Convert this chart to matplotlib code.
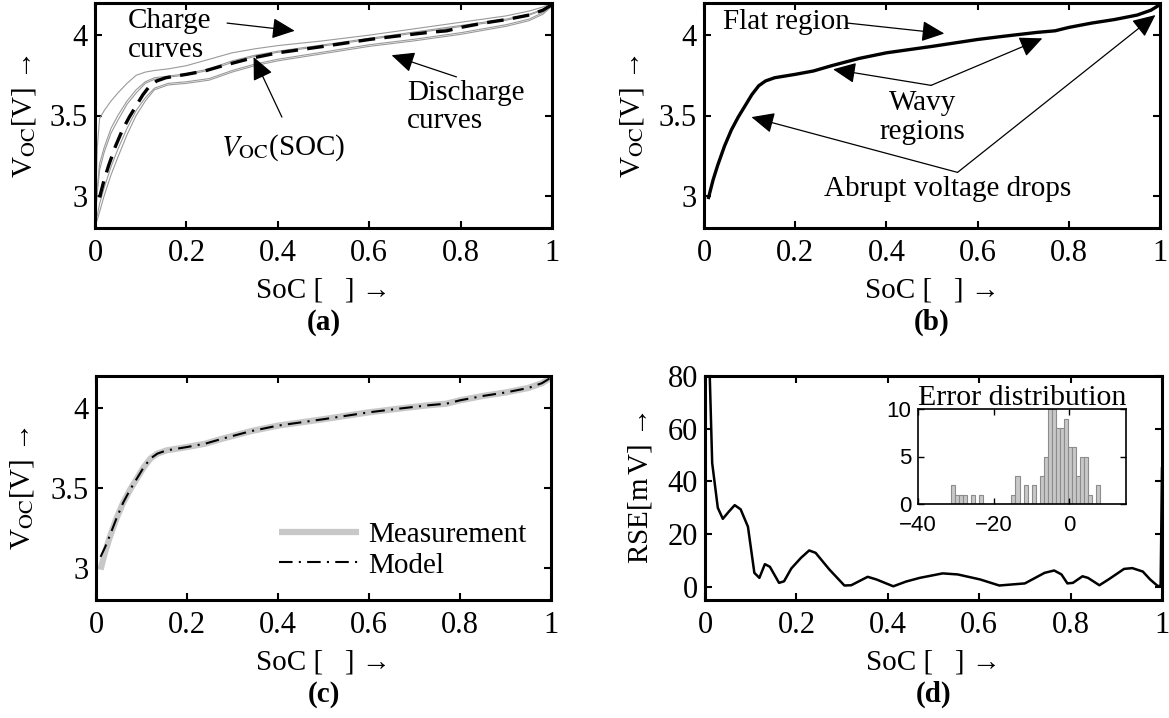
import matplotlib
matplotlib.use('Agg')
import matplotlib.pyplot as plt
import numpy as np

plt.rcParams['font.family'] = ['Liberation Serif', 'DejaVu Serif']
plt.rcParams['mathtext.fontset'] = 'stix'

FS = 21

# open circuit voltage curve (panels a, b, c)
ocv_soc = [0.01, 0.02, 0.03, 0.045, 0.06, 0.075, 0.09, 0.105, 0.12, 0.135, 0.155, 0.2,
           0.24, 0.28, 0.34, 0.4, 0.5, 0.6, 0.66, 0.73, 0.77, 0.8, 0.85, 0.9, 0.95, 0.98, 1.0]
ocv_v = [2.99, 3.10, 3.19, 3.31, 3.41, 3.49, 3.56, 3.63, 3.685, 3.715, 3.735, 3.756,
         3.777, 3.81, 3.855, 3.89, 3.93, 3.973, 3.994, 4.017, 4.027, 4.048, 4.075, 4.097, 4.125, 4.155, 4.19]
model_v = [3.07, 3.13, 3.20, 3.31, 3.41, 3.49, 3.56, 3.63, 3.685, 3.715, 3.735, 3.756,
           3.777, 3.81, 3.855, 3.89, 3.93, 3.973, 3.994, 4.017, 4.027, 4.048, 4.075, 4.097, 4.125, 4.155, 4.19]

# measured charge / discharge curves (panel a)
cd_soc = [0, 0.005, 0.01, 0.02, 0.035, 0.05, 0.07, 0.09, 0.11, 0.13, 0.16, 0.2,
          0.25, 0.3, 0.35, 0.4, 0.5, 0.6, 0.7, 0.8, 0.9, 0.95, 0.98, 1.0]
charge_1 = [2.82, 3.30, 3.48, 3.53, 3.59, 3.64, 3.70, 3.75, 3.77, 3.78, 3.79, 3.81,
            3.85, 3.89, 3.915, 3.935, 3.965, 4.00, 4.04, 4.08, 4.12, 4.15, 4.175, 4.20]
charge_2 = [2.82, 3.05, 3.20, 3.30, 3.42, 3.50, 3.59, 3.66, 3.71, 3.735, 3.745, 3.76,
            3.79, 3.84, 3.875, 3.90, 3.94, 3.98, 4.02, 4.06, 4.10, 4.13, 4.16, 4.19]
charge_3 = [2.82, 3.02, 3.16, 3.27, 3.39, 3.47, 3.57, 3.64, 3.70, 3.725, 3.738, 3.752,
            3.782, 3.83, 3.868, 3.893, 3.933, 3.973, 4.013, 4.053, 4.093, 4.125, 4.155, 4.19]
discharge_1 = [2.82, 2.88, 2.95, 3.05, 3.18, 3.29, 3.42, 3.53, 3.61, 3.67, 3.70, 3.71,
               3.73, 3.78, 3.82, 3.85, 3.895, 3.94, 3.975, 4.015, 4.065, 4.10, 4.14, 4.185]
discharge_2 = [2.82, 2.85, 2.90, 3.00, 3.13, 3.24, 3.38, 3.50, 3.59, 3.66, 3.69, 3.70,
               3.72, 3.77, 3.81, 3.84, 3.885, 3.93, 3.965, 4.005, 4.055, 4.09, 4.13, 4.18]

# fit error (panel d)
rse_soc = [0.008, 0.0157, 0.028, 0.039, 0.052, 0.065, 0.078, 0.094, 0.108, 0.119, 0.131,
           0.142, 0.162, 0.173, 0.189, 0.21, 0.228, 0.242, 0.272, 0.305, 0.32, 0.356, 0.375,
           0.412, 0.44, 0.47, 0.52, 0.553, 0.602, 0.644, 0.70, 0.743, 0.764, 0.78, 0.793,
           0.805, 0.826, 0.838, 0.863, 0.883, 0.917, 0.935, 0.958, 0.974, 0.991, 0.997, 1.0]
rse_mv = [95, 47, 30, 25.8, 28.5, 31, 29.4, 22.8, 5.3, 3.4, 8.6,
          7.6, 1.5, 2.1, 7.0, 11.0, 13.8, 12.9, 6.6, 0.5, 0.6, 3.8, 2.8,
          0.2, 2.0, 3.4, 5.1, 4.7, 2.8, 0.5, 1.3, 5.3, 6.2, 4.7, 1.3,
          1.5, 4.0, 3.4, 0.6, 2.8, 6.8, 7.1, 5.8, 2.8, 0.25, 0.5, 45]

# error histogram (inset)
err_left = -39.9
err_width = 1.07
err_counts = [0, 0, 0, 0, 0, 0, 0, 0,
              2, 1, 1, 1, 0, 1, 0, 1, 0, 0, 0, 0, 0, 0, 0,
              1, 3, 0, 2, 0, 2, 0, 3, 5, 10, 10, 8, 8, 9, 6, 6, 3, 5, 5, 1, 0, 2]

soc_ticks = [0, 0.2, 0.4, 0.6, 0.8, 1]
soc_labels = ['0', '0.2', '0.4', '0.6', '0.8', '1']
v_ticks = [3, 3.5, 4]
v_labels = ['3', '3.5', '4']


def style(ax, h_px, ylab, ylab_off, sub):
    ax.set_xlim(0, 1)
    ax.set_xticks(soc_ticks)
    ax.set_xticklabels(soc_labels)
    ax.tick_params(direction='in', top=True, right=True, length=5, width=1.5, labelsize=FS + 1)
    ax.tick_params(axis='x', pad=8)
    ax.tick_params(axis='y', pad=5)
    for s in ax.spines.values():
        s.set_linewidth(2.2)
    ax.set_xlabel('SoC [   ] →', fontsize=FS, va='center')
    ax.xaxis.set_label_coords(0.5, -62 / h_px)
    ax.set_ylabel(ylab, fontsize=FS, va='center')
    ax.yaxis.set_label_coords(ylab_off, 0.5)
    ax.text(0.5, -94 / h_px, sub, transform=ax.transAxes, ha='center', va='center',
            fontsize=FS, fontweight='bold')


def arrow(ax, tail, tip):
    ax.annotate('', xy=tip, xytext=tail,
                arrowprops=dict(arrowstyle='-|>,head_length=0.7,head_width=0.32',
                                mutation_scale=20, lw=0.9, color='k',
                                shrinkA=0, shrinkB=0))


fig = plt.figure(figsize=(11.69, 7.18), dpi=100)
W, H = 1169, 718
ax_a = fig.add_axes([95 / W, (H - 228) / H, 457 / W, 225 / H])
ax_b = fig.add_axes([704 / W, (H - 228) / H, 456 / W, 225 / H])
ax_c = fig.add_axes([96 / W, (H - 600) / H, 455 / W, 224 / H])
ax_d = fig.add_axes([705 / W, (H - 600) / H, 457 / W, 224 / H])

vlab = 'V$_{\\mathrm{OC}}$[V] →'

# (a)
for curve in [charge_1, charge_2, charge_3, discharge_1, discharge_2]:
    ax_a.plot(cd_soc, curve, color='#9a9a9a', lw=0.8)
ax_a.plot(ocv_soc, ocv_v, color='k', lw=2.4, linestyle=(0, (5, 2.8)))
ax_a.set_ylim(2.8, 4.2)
ax_a.set_yticks(v_ticks)
ax_a.set_yticklabels(v_labels)
style(ax_a, 225, vlab, -71 / 457, '(a)')
ax_a.text(0.072, 4.0, 'Charge\ncurves', fontsize=FS, ha='left', va='center', linespacing=1.15)
arrow(ax_a, (0.289, 4.075), (0.437, 4.027))
ax_a.text(0.683, 3.55, 'Discharge\ncurves', fontsize=FS, ha='left', va='center', linespacing=1.1)
arrow(ax_a, (0.791, 3.74), (0.649, 3.875))
ax_a.text(0.411, 3.30, '$V_{\\mathrm{OC}}$(SOC)', fontsize=FS, ha='center', va='center')
arrow(ax_a, (0.409, 3.49), (0.347, 3.864))

# (b)
ax_b.plot(ocv_soc, ocv_v, color='k', lw=2.4)
ax_b.set_ylim(2.8, 4.2)
ax_b.set_yticks(v_ticks)
ax_b.set_yticklabels(v_labels)
style(ax_b, 225, vlab, -72 / 456, '(b)')
ax_b.text(0.042, 4.08, 'Flat region', fontsize=FS, ha='left', va='center')
arrow(ax_b, (0.315, 4.075), (0.527, 4.01))
ax_b.text(0.479, 3.49, 'Wavy\nregions', fontsize=FS, ha='center', va='center', linespacing=1.15)
arrow(ax_b, (0.498, 3.6875), (0.283, 3.7875))
arrow(ax_b, (0.498, 3.6875), (0.742, 3.98))
ax_b.text(0.534, 3.044, 'Abrupt voltage drops', fontsize=FS, ha='center', va='center')
arrow(ax_b, (0.556, 3.146), (0.104, 3.49))
arrow(ax_b, (0.556, 3.146), (0.99, 4.125))

# (c)
ax_c.plot(ocv_soc, ocv_v, color='#c8c8c8', lw=4.5, label='Measurement', solid_capstyle='butt')
ax_c.plot(ocv_soc, model_v, color='k', lw=1.5, linestyle=(0, (6.5, 3, 1, 3)), label='Model')
ax_c.set_ylim(2.8, 4.2)
ax_c.set_yticks(v_ticks)
ax_c.set_yticklabels(v_labels)
style(ax_c, 224, vlab, -74 / 455, '(c)')
ax_c.legend(loc='center left', bbox_to_anchor=(0.402, 0.223), frameon=False, fontsize=FS,
            borderpad=0, borderaxespad=0, handlelength=2.75, handletextpad=0.3,
            labelspacing=0.15)

# (d)
ax_d.plot(rse_soc, rse_mv, color='k', lw=1.8)
ax_d.set_ylim(-5, 80)
ax_d.set_yticks([0, 20, 40, 60, 80])
ax_d.set_yticklabels(['0', '20', '40', '60', '80'])
style(ax_d, 224, 'RSE[m$\\,$V] →', -65 / 457, '(d)')

# inset
ax_in = fig.add_axes([918 / W, (H - 504) / H, 208 / W, 95 / H])
centers = err_left + err_width * (np.arange(len(err_counts)) + 0.5)
ax_in.bar(centers, err_counts, width=err_width, color='#c8c8c8', edgecolor='#8c8c8c', lw=0.8)
ax_in.set_xlim(-40, 15)
ax_in.set_ylim(0, 10)
ax_in.set_xticks([-40, -20, 0])
ax_in.set_yticks([0, 5, 10])
ax_in.tick_params(direction='in', top=True, right=True, length=4, width=1, labelsize=16)
ax_in.tick_params(axis='x', pad=8)
ax_in.tick_params(axis='y', pad=5)
for lab in ax_in.get_xticklabels() + ax_in.get_yticklabels():
    lab.set_family('Liberation Sans')
for s in ax_in.spines.values():
    s.set_linewidth(1.2)
ax_in.set_title('Error distribution', fontsize=21.5, pad=3)

fig.savefig('out.png', dpi=100)
